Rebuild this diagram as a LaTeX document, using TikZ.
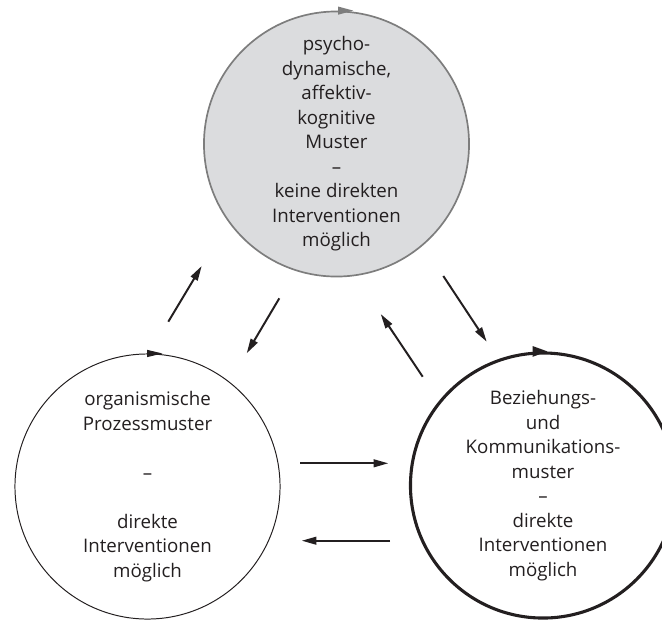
\documentclass[tikz,border=0pt]{standalone}
\usepackage{fontspec}
\setmainfont{Open Sans}
\usetikzlibrary{arrows.meta}
\definecolor{ink}{RGB}{35,31,32}
\definecolor{ringgray}{RGB}{125,125,125}
\definecolor{ringfill}{RGB}{219,220,222}

\begin{document}
\begin{tikzpicture}[x=0.025cm,y=-0.025cm,
    ring/.style={circle,minimum size=6.625cm,inner sep=0,align=center,text=ink,
        font=\fontsize{13.3pt}{17.4pt}\selectfont},
    arr/.style={draw=ink,line width=1.4pt,-{Triangle[length=10.5pt,width=5.5pt]}},
    ringtip/.style={-{Triangle[length=11pt,width=#1]}}]
    \pgfmathsetmacro{\gap}{17.4}
    \useasboundingbox (0,0) rectangle (662,619);
    % the three patterns
    \node[ring,draw=ringgray,fill=ringfill,line width=1.2pt] (psy) at (336.5,144)
        {psycho-\\dynamische,\\affektiv-\\kognitive\\Muster\\–\\keine direkten\\Interventionen\\möglich};
    \node[ring,draw=ink,line width=0.7pt] (org) at (147.5,486.5)
        {organismische\\Prozessmuster\\[\gap pt]–\\[\gap pt]direkte\\Interventionen\\möglich};
    \node[ring,draw=ink,line width=2.2pt] (bez) at (543,485.5)
        {Beziehungs-\\und\\Kommunikations-\\muster\\–\\direkte\\Interventionen\\möglich};
    % direction marks on the rings
    \draw[ringtip=5.5pt,ringgray,line width=1.2pt] (psy.north) ++(1,0) -- ++(16,0);
    \draw[ringtip=5pt,ink,line width=0.7pt] (org.north) ++(0,0) -- ++(15,0);
    \draw[ringtip=7pt,ink,line width=2.2pt] (bez.north) ++(-10,0) -- ++(15,0);
    % arrow ends
    \coordinate (o2p-s) at (168.3,321.7);
    \coordinate (o2p-e) at (201.7,266);
    \coordinate (p2o-s) at (279.3,298.3);
    \coordinate (p2o-e) at (246.7,353.3);
    \coordinate (p2b-s) at (443.3,276);
    \coordinate (p2b-e) at (486.7,341.7);
    \coordinate (b2p-s) at (422.7,376.7);
    \coordinate (b2p-e) at (380.7,314);
    \coordinate (o2b-s) at (300,463.3);
    \coordinate (o2b-e) at (388.3,463.3);
    \coordinate (b2o-s) at (390,540.7);
    \coordinate (b2o-e) at (301.7,540.7);
    \draw[arr] (o2p-s) -- (o2p-e);
    \draw[arr] (p2o-s) -- (p2o-e);
    \draw[arr] (p2b-s) -- (p2b-e);
    \draw[arr] (b2p-s) -- (b2p-e);
    \draw[arr] (o2b-s) -- (o2b-e);
    \draw[arr] (b2o-s) -- (b2o-e);
\end{tikzpicture}
\end{document}
